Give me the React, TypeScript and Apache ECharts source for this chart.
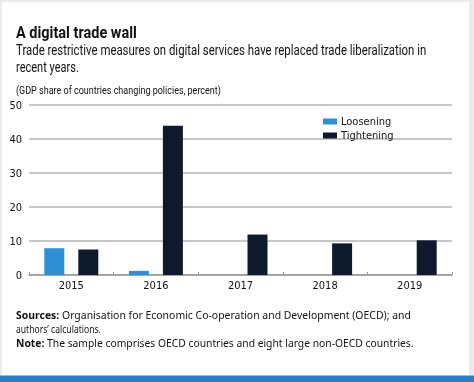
import React, { useEffect, useRef } from "react";
import * as echarts from "echarts";

const years = ["2015", "2016", "2017", "2018", "2019"];
const loosening = [7.9, 1.2, 0, 0, 0];
const tightening = [7.5, 43.9, 11.9, 9.3, 10.2];
const yTicks = { min: 0, max: 50, interval: 10 };

const titleText = "A digital trade wall";
const subtitleLines = [
  "Trade restrictive measures on digital services have replaced trade liberalization in",
  "recent years.",
];
const unitText = "(GDP share of countries changing policies, percent)";
const sourceLines = [
  ["Sources:", " Organisation for Economic Co-operation and Development (OECD); and"],
  ["", "authors\u2019 calculations."],
  ["Note:", " The sample comprises OECD countries and eight large non-OECD countries."],
];

const COND = "'DejaVu Sans Condensed', 'Roboto', sans-serif";
const HEAD = "Roboto";
const BODY = "'Noto Sans'";
const LIGHT = "#2f8fd5";
const DARK = "#0e1a2c";

let ctx: CanvasRenderingContext2D | null = null;
function measure(text: string, font: string): number {
  if (!ctx) ctx = document.createElement("canvas").getContext("2d");
  if (!ctx) return 1;
  ctx.font = font;
  return ctx.measureText(text).width || 1;
}

function fitText(text: string, font: string, x: number, y: number, targetW: number) {
  const s = targetW / measure(text, font);
  return {
    type: "text", x, y, scaleX: s, silent: true,
    style: { text, font, fill: "#111", verticalAlign: "middle" },
  };
}

export default function App() {
  const ref = useRef<HTMLDivElement>(null);
  useEffect(() => {
    if (!ref.current) return;
    const chart = echarts.init(ref.current, null, { renderer: "svg" });
    const subW = [411, 63];
    const srcW = [395, 85, 398];
    const bFont = `bold 11px ${BODY}`;
    const nFont = `11px ${BODY}`;
    const graphics: any[] = [
      { type: "rect", silent: true, z: -10, shape: { x: 0, y: 0, width: 474, height: 382 }, style: { fill: "#ebebeb" } },
      { type: "rect", silent: true, z: -9, shape: { x: 2, y: 2, width: 467, height: 373 }, style: { fill: "#ffffff" } },
      { type: "rect", silent: true, z: -9, shape: { x: 0, y: 375, width: 474, height: 1 }, style: { fill: "#8cc0e8" } },
      { type: "rect", silent: true, z: -9, shape: { x: 0, y: 376, width: 474, height: 6 }, style: { fill: "#2a7fc6" } },
      fitText(titleText, `bold 17px ${HEAD}`, 16, 32, 121),
      ...subtitleLines.map((t, i) => fitText(t, `15px ${HEAD}`, 16, 50 + i * 17, subW[i])),
      fitText(unitText, `11px ${HEAD}`, 16, 90, 205),
      ...sourceLines.map((l, i) => {
        const w = (l[0] ? measure(l[0], bFont) : 0) + measure(l[1], nFont);
        return {
          type: "text", x: 16, y: 315 + i * 14, scaleX: srcW[i] / w, silent: true,
          style: {
            text: (l[0] ? `{b|${l[0]}}` : "") + `{n|${l[1]}}`,
            verticalAlign: "middle",
            rich: {
              b: { font: bFont, fill: "#111" },
              n: { font: nFont, fill: "#111" },
            },
          },
        };
      }),
    ];
    chart.setOption({
      animation: false,
      backgroundColor: "transparent",
      graphic: graphics,
      grid: { left: 29, right: 22, top: 105, bottom: 107, containLabel: false },
      legend: {
        orient: "vertical",
        left: 318,
        top: 111,
        itemWidth: 14,
        itemHeight: 6,
        itemGap: 3,
        icon: "rect",
        textStyle: { fontFamily: COND, fontSize: 11, color: "#111", padding: [0, 0, 0, -1] },
        data: ["Loosening", "Tightening"],
      },
      xAxis: {
        type: "category",
        data: years,
        axisLine: { lineStyle: { color: "#9a9a9a", width: 1.5 } },
        axisTick: { show: true, inside: true, length: 3, lineStyle: { color: "#9a9a9a" } },
        axisLabel: { fontFamily: COND, fontSize: 11, color: "#111", margin: 5 },
      },
      yAxis: {
        type: "value",
        min: yTicks.min,
        max: yTicks.max,
        interval: yTicks.interval,
        axisLine: { show: false },
        axisTick: { show: false },
        axisLabel: { fontFamily: COND, fontSize: 11, color: "#111", margin: 7 },
        splitLine: { lineStyle: { color: "#b5b5b5", width: 1.5 } },
      },
      series: [
        { name: "Loosening", type: "bar", data: loosening, barWidth: 20, barGap: "70%", itemStyle: { color: LIGHT } },
        { name: "Tightening", type: "bar", data: tightening, barWidth: 20, itemStyle: { color: DARK } },
      ],
    });
    return () => chart.dispose();
  }, []);
  return <div ref={ref} style={{ position: "fixed", left: 0, top: 0, width: 474, height: 382 }} />;
}
